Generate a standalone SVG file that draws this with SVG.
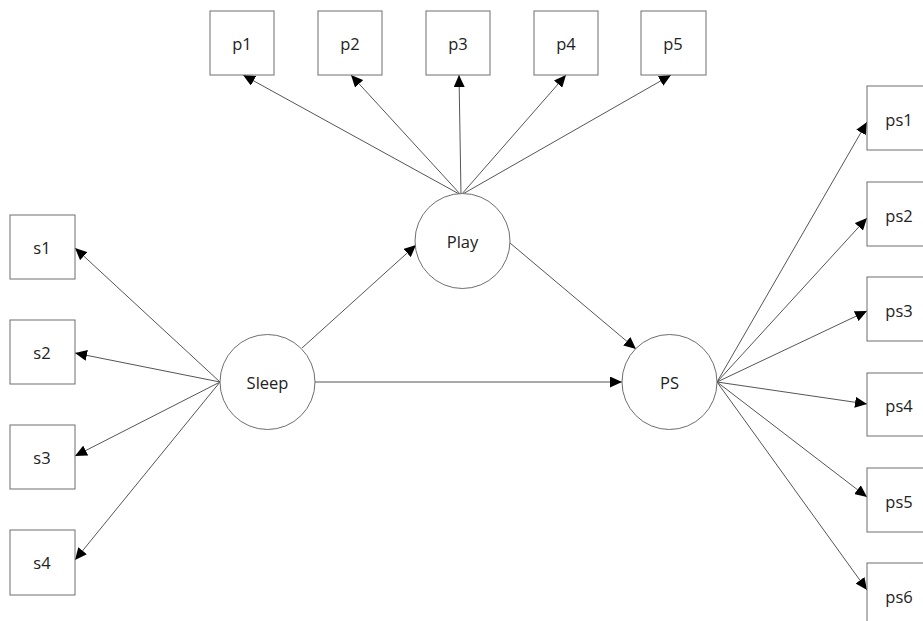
<svg xmlns="http://www.w3.org/2000/svg" width="923" height="621" viewBox="0 0 923 621">
<defs>
<marker id="ah" markerUnits="userSpaceOnUse" markerWidth="12" markerHeight="11" refX="12" refY="5.5" orient="auto">
<path d="M0,0 L12,5.5 L0,11 z" fill="#000"/>
</marker>
<style>
.box{fill:#fff;stroke:#6e6e6e;stroke-width:1}
.lat{fill:#fff;stroke:#6e6e6e;stroke-width:1}
.lbl{font-family:"Open Sans","Noto Sans","Liberation Sans",sans-serif;font-size:16.5px;fill:#222;text-anchor:middle;dominant-baseline:central}
.edge{stroke:#555;stroke-width:1;fill:none;marker-end:url(#ah)}
</style>
</defs>
<rect width="923" height="621" fill="#fff"/>
<g id="connectors">
<line class="edge" x1="461" y1="195" x2="243" y2="75"/>
<line class="edge" x1="461" y1="195" x2="351" y2="75"/>
<line class="edge" x1="461" y1="195" x2="459" y2="75"/>
<line class="edge" x1="461" y1="195" x2="566" y2="75"/>
<line class="edge" x1="461" y1="195" x2="671" y2="75"/>
<line class="edge" x1="220" y1="382" x2="75" y2="248"/>
<line class="edge" x1="220" y1="382" x2="75" y2="353"/>
<line class="edge" x1="220" y1="382" x2="75" y2="456"/>
<line class="edge" x1="220" y1="382" x2="75" y2="560"/>
<line class="edge" x1="302" y1="348" x2="416" y2="245"/>
<line class="edge" x1="510" y1="243" x2="636" y2="349"/>
<line class="edge" x1="315" y1="382" x2="622" y2="382"/>
<line class="edge" x1="717" y1="382" x2="867" y2="122"/>
<line class="edge" x1="717" y1="382" x2="867" y2="218"/>
<line class="edge" x1="717" y1="382" x2="867" y2="311"/>
<line class="edge" x1="717" y1="382" x2="867" y2="404"/>
<line class="edge" x1="717" y1="382" x2="867" y2="497"/>
<line class="edge" x1="717" y1="382" x2="867" y2="590"/>
</g>
<g id="p1"><rect class="box" x="210" y="11" width="64" height="64"/><text class="lbl" x="242" y="43">p1</text></g>
<g id="p2"><rect class="box" x="318" y="11" width="64" height="64"/><text class="lbl" x="350" y="43">p2</text></g>
<g id="p3"><rect class="box" x="426" y="11" width="64" height="64"/><text class="lbl" x="458" y="43">p3</text></g>
<g id="p4"><rect class="box" x="534" y="11" width="64" height="64"/><text class="lbl" x="566" y="43">p4</text></g>
<g id="p5"><rect class="box" x="641" y="11" width="65" height="64"/><text class="lbl" x="673" y="43">p5</text></g>
<g id="s1"><rect class="box" x="10" y="215" width="65" height="64"/><text class="lbl" x="42" y="247">s1</text></g>
<g id="s2"><rect class="box" x="10" y="320" width="65" height="64"/><text class="lbl" x="42" y="352">s2</text></g>
<g id="s3"><rect class="box" x="10" y="425" width="65" height="64"/><text class="lbl" x="42" y="457">s3</text></g>
<g id="s4"><rect class="box" x="10" y="530" width="65" height="65"/><text class="lbl" x="42" y="562">s4</text></g>
<g id="ps1"><rect class="box" x="867" y="86" width="64" height="64"/><text class="lbl" x="899" y="119">ps1</text></g>
<g id="ps2"><rect class="box" x="867" y="182" width="64" height="64"/><text class="lbl" x="899" y="215">ps2</text></g>
<g id="ps3"><rect class="box" x="867" y="277" width="64" height="64"/><text class="lbl" x="899" y="310">ps3</text></g>
<g id="ps4"><rect class="box" x="867" y="373" width="64" height="63"/><text class="lbl" x="899" y="405">ps4</text></g>
<g id="ps5"><rect class="box" x="867" y="468" width="64" height="64"/><text class="lbl" x="899" y="501">ps5</text></g>
<g id="ps6"><rect class="box" x="867" y="563" width="64" height="64"/><text class="lbl" x="899" y="596">ps6</text></g>
<g id="Play"><circle class="lat" cx="462.5" cy="241" r="47.5"/><text class="lbl" x="462.5" y="241">Play</text></g>
<g id="Sleep"><circle class="lat" cx="267.5" cy="382" r="47.5"/><text class="lbl" x="267.5" y="382">Sleep</text></g>
<g id="PS"><circle class="lat" cx="669.5" cy="382" r="47.5"/><text class="lbl" x="669.5" y="382">PS</text></g>
</svg>
